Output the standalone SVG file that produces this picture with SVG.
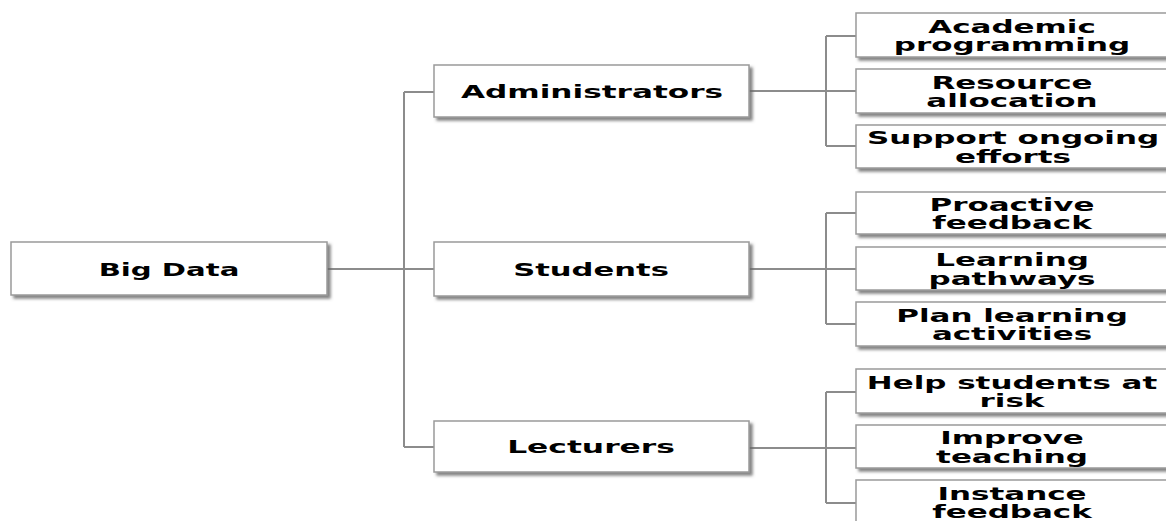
<svg xmlns="http://www.w3.org/2000/svg" width="1166" height="521" viewBox="0 0 1166 521">
<defs>
<filter id="sh" x="-5%" y="-20%" width="115%" height="150%">
<feDropShadow dx="3" dy="3" stdDeviation="1.5" flood-color="#666" flood-opacity="0.8"/>
</filter>
</defs>
<style>
.box{fill:#fff;stroke:#9a9a9a;stroke-width:1.5;filter:url(#sh)}
.t{font-family:"DejaVu Sans",Verdana,sans-serif;font-weight:bold;font-size:18px;fill:#000;text-anchor:middle}
.c{fill:none;stroke:#8c8c8c;stroke-width:2}
</style>
<rect width="1166" height="521" fill="#fff"/>
<g id="connectors">
<path class="c" d="M327 269 H434 M404 92 V447 M404 92 H434 M404 447 H434"/>
<path class="c" d="M749 91 H856 M826 36 V146 M826 36 H856 M826 146 H856"/>
<path class="c" d="M749 269 H856 M826 213 V324 M826 213 H856 M826 324 H856"/>
<path class="c" d="M749 448 H856 M826 392 V503 M826 392 H856 M826 503 H856"/>
</g>
<g id="big-data"><rect class="box" x="11" y="242" width="316" height="53"/><text class="t" transform="translate(169,275.5) scale(1.62,1)">Big Data</text></g>
<g id="administrators"><rect class="box" x="434" y="65" width="315" height="52"/><text class="t" transform="translate(592,97.5) scale(1.73,1)">Administrators</text></g>
<g id="students"><rect class="box" x="434" y="242" width="315" height="54"/><text class="t" transform="translate(591,275.5) scale(1.7,1)">Students</text></g>
<g id="lecturers"><rect class="box" x="434" y="421" width="315" height="51"/><text class="t" transform="translate(591,453) scale(1.74,1)">Lecturers</text></g>
<g id="academic"><rect class="box" x="856" y="13" width="312" height="44"/><text class="t" transform="translate(1012,32.5) scale(1.72,1)"><tspan x="0">Academic</tspan><tspan x="0" dy="19">programming</tspan></text></g>
<g id="resource"><rect class="box" x="856" y="69" width="312" height="44"/><text class="t" transform="translate(1012,88.5) scale(1.72,1)"><tspan x="0">Resource</tspan><tspan x="0" dy="19">allocation</tspan></text></g>
<g id="support"><rect class="box" x="856" y="125" width="312" height="43"/><text class="t" transform="translate(1013,144) scale(1.72,1)"><tspan x="0">Support ongoing</tspan><tspan x="0" dy="19">efforts</tspan></text></g>
<g id="proactive"><rect class="box" x="856" y="192" width="312" height="42"/><text class="t" transform="translate(1012,210.5) scale(1.72,1)"><tspan x="0">Proactive</tspan><tspan x="0" dy="19">feedback</tspan></text></g>
<g id="learning"><rect class="box" x="856" y="247" width="312" height="43"/><text class="t" transform="translate(1012,266) scale(1.72,1)"><tspan x="0">Learning</tspan><tspan x="0" dy="19">pathways</tspan></text></g>
<g id="plan"><rect class="box" x="856" y="302" width="312" height="44"/><text class="t" transform="translate(1012,321.5) scale(1.72,1)"><tspan x="0">Plan learning</tspan><tspan x="0" dy="19">activities</tspan></text></g>
<g id="help"><rect class="box" x="856" y="369" width="312" height="44"/><text class="t" transform="translate(1012,388.5) scale(1.72,1)"><tspan x="0">Help students at</tspan><tspan x="0" dy="19">risk</tspan></text></g>
<g id="improve"><rect class="box" x="856" y="425" width="312" height="43"/><text class="t" transform="translate(1012,444) scale(1.72,1)"><tspan x="0">Improve</tspan><tspan x="0" dy="19">teaching</tspan></text></g>
<g id="instance"><rect class="box" x="856" y="480" width="312" height="45"/><text class="t" transform="translate(1012,499.5) scale(1.72,1)"><tspan x="0">Instance</tspan><tspan x="0" dy="19">feedback</tspan></text></g>
</svg>
